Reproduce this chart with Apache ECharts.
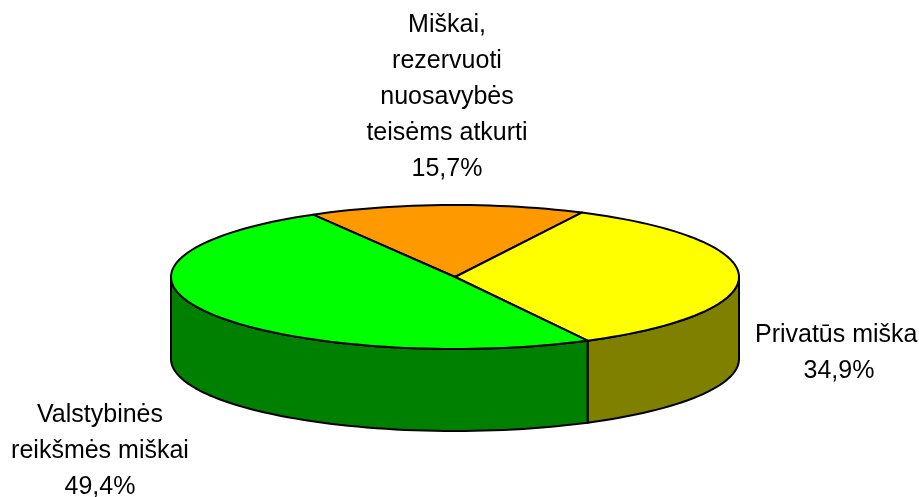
<!DOCTYPE html>
<html>
<head>
<meta charset="utf-8">
<script src="https://cdn.jsdelivr.net/npm/echarts@6/dist/echarts.min.js"></script>
<style>
  html, body { margin: 0; padding: 0; background: #fff; }
  #chart { width: 919px; height: 497px; }
</style>
</head>
<body>
<div id="chart"></div>
<script>
// slices in drawing order, clockwise from the start angle
const names = ["Miškai,\nrezervuoti\nnuosavybės\nteisėms atkurti", "Privatūs miškai", "Valstybinės\nreikšmės miškai"];
const values = [15.7, 34.9, 49.4];
const topColors = ["#ff9900", "#ffff00", "#00ff00"];
const sideColors = ["#996600", "#808000", "#008000"];

// where each label block sits (centre x, centre y of the middle line)
const labelPos = [[447, 97], [839, 353], [100, 451]];

const cx = 455, cy = 277, rx = 284, ry = 72, depth = 82;
const startAngle = 120;

const total = values.reduce((a, b) => a + b, 0);
const fmt = (v) => v.toFixed(1).replace(".", ",") + "%";

const pt = (deg, dy) => {
  const r = deg * Math.PI / 180;
  return [cx + rx * Math.cos(r), cy - ry * Math.sin(r) + (dy || 0)];
};

const arc = (from, to, dy) => {
  const pts = [];
  const n = Math.max(2, Math.ceil(Math.abs(to - from) / 2));
  for (let i = 0; i <= n; i++) pts.push(pt(from + (to - from) * i / n, dy));
  return pts;
};

const chart = echarts.init(document.getElementById("chart"));

const renderItem = (params, api) => {
  const idx = params.dataIndex;
  let before = 0;
  for (let i = 0; i < idx; i++) before += values[i];
  const hi = startAngle - before / total * 360;
  const lo = hi - api.value(0) / total * 360;
  const children = [];

  // visible side wall: the front half of the ellipse
  for (let k = -1; k <= 1; k++) {
    const a = Math.max(lo, -180 + 360 * k);
    const b = Math.min(hi, 360 * k);
    if (b > a) {
      const pts = arc(a, b, 0).concat(arc(b, a, depth));
      children.push({
        type: "polygon",
        z2: 1,
        shape: { points: pts },
        style: { fill: sideColors[idx], stroke: "#000", lineWidth: 2, lineJoin: "round" }
      });
    }
  }

  children.push({
    type: "polygon",
    z2: 2,
    shape: { points: [[cx, cy]].concat(arc(hi, lo, 0)) },
    style: { fill: topColors[idx], stroke: "#000", lineWidth: 2, lineJoin: "round" }
  });

  return { type: "group", children };
};

chart.setOption({
  animation: false,
  series: [
    {
      type: "custom",
      coordinateSystem: "none",
      renderItem,
      data: values
    }
  ],
  graphic: names.map((name, i) => {
    const lines = (name + "\n" + fmt(values[i])).split("\n");
    const lh = 36;
    return {
      type: "text",
      z: 10,
      style: {
        text: lines.join("\n"),
        x: labelPos[i][0],
        y: labelPos[i][1] - (lines.length * lh) / 2,
        textAlign: "center",
        textVerticalAlign: "top",
        fontFamily: "Liberation Sans, Arial, sans-serif",
        fontSize: 25,
        lineHeight: lh,
        fill: "#000"
      }
    };
  })
});
</script>
</body>
</html>
